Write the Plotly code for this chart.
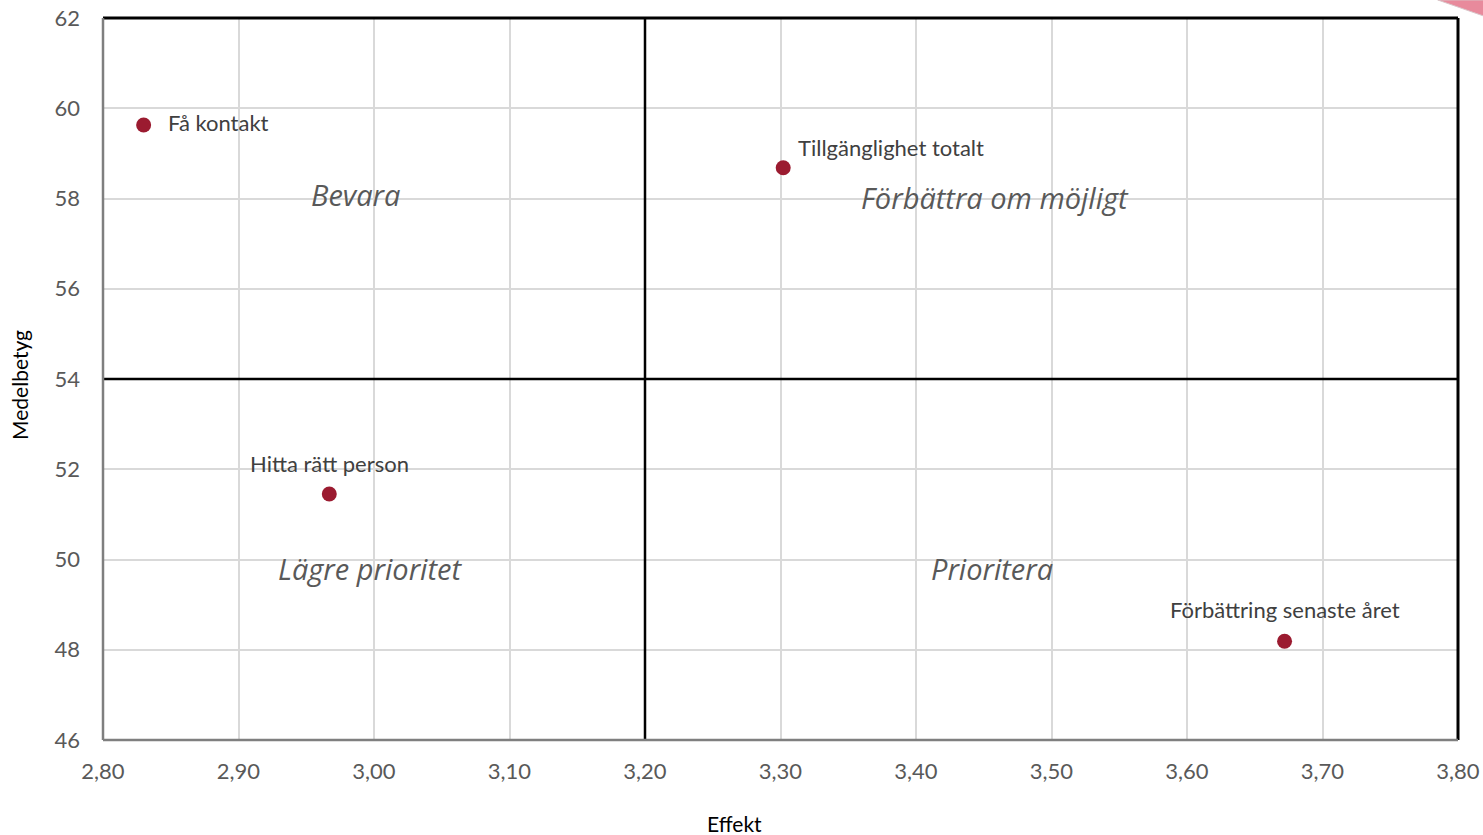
import plotly.graph_objects as go

# Punkter: effekt (x) mot medelbetyg (y)
labels = ["Få kontakt", "Tillgänglighet totalt", "Hitta rätt person", "Förbättring senaste året"]
effekt = [2.83, 3.302, 2.967, 3.672]
medelbetyg = [59.63, 58.68, 51.45, 48.19]

# Kvadrantgränser
x_split = 3.20
y_split = 54

# Kvadrantrubriker och deras placering
quad_names = ["Bevara", "Förbättra om möjligt", "Lägre prioritet", "Prioritera"]
quad_x = [2.986, 3.458, 2.997, 3.456]
quad_y = [58.08, 58.03, 49.81, 49.81]

x_range = [2.80, 3.80]
y_range = [46, 62]

x_title = "Effekt"
y_title = "Medelbetyg"

FONT = "Lato"
QFONT = "Open Sans"
marker_color = "#9b1b30"

fig = go.Figure()
fig.add_trace(go.Scatter(
    x=effekt, y=medelbetyg, mode="markers",
    marker=dict(size=15, color=marker_color),
    hoverinfo="text", text=labels, showlegend=False,
))

# Etiketter vid punkterna
label_pos = [
    dict(xanchor="left", yanchor="middle", xshift=22, yshift=2),
    dict(xanchor="left", yanchor="middle", xshift=13, yshift=20),
    dict(xanchor="center", yanchor="middle", xshift=0, yshift=31),
    dict(xanchor="center", yanchor="middle", xshift=0, yshift=32),
]
for name, xv, yv, pos in zip(labels, effekt, medelbetyg, label_pos):
    fig.add_annotation(x=xv, y=yv, text=name, showarrow=False,
                       font=dict(family=FONT, size=22, color="#404040"), **pos)

for name, xv, yv in zip(quad_names, quad_x, quad_y):
    fig.add_annotation(x=xv, y=yv, text=f"<i>{name}</i>", showarrow=False,
                       xanchor="center", yanchor="middle",
                       font=dict(family=QFONT, size=29, color="#595959"))

# Axeltitlar
fig.add_annotation(xref="paper", yref="paper", x=0.4664, y=-0.1163, text=x_title,
                   showarrow=False, xanchor="center", yanchor="middle",
                   font=dict(family=FONT, size=21, color="#000000"))
fig.add_annotation(xref="paper", yref="paper", x=-0.0613, y=0.4917, text=y_title,
                   showarrow=False, xanchor="center", yanchor="middle", textangle=-90,
                   font=dict(family=FONT, size=21, color="#000000"))

# Kvadrantlinjer
fig.add_shape(type="line", xref="x", yref="paper", x0=x_split, x1=x_split, y0=0, y1=1,
              line=dict(color="black", width=2.5), layer="above")
fig.add_shape(type="line", xref="paper", yref="y", x0=0, x1=1, y0=y_split, y1=y_split,
              line=dict(color="black", width=2.5), layer="above")

# Ram: svart upptill och till höger, grå till vänster och nertill
fig.add_shape(type="line", xref="paper", yref="paper", x0=0, x1=1, y0=1, y1=1,
              line=dict(color="black", width=3), layer="above")
fig.add_shape(type="line", xref="paper", yref="paper", x0=1, x1=1, y0=0, y1=1,
              line=dict(color="black", width=3), layer="above")
fig.add_shape(type="line", xref="paper", yref="paper", x0=0, x1=0, y0=0, y1=1,
              line=dict(color="#7f7f7f", width=2.5), layer="above")
fig.add_shape(type="line", xref="paper", yref="paper", x0=0, x1=1, y0=0, y1=0,
              line=dict(color="#7f7f7f", width=2.5), layer="above")

# Dekor i övre högra hörnet
fig.add_shape(type="path", xref="paper", yref="paper",
              path="M 0.985 1.025 L 1.02 1.025 L 1.02 1.002 Z",
              fillcolor="#e88a9c", line=dict(color="#d9c5c9", width=1), layer="above")

fig.update_xaxes(
    range=x_range, dtick=0.1, tick0=2.8, tickformat=".2f",
    showgrid=True, gridcolor="#d9d9d9", gridwidth=1.5,
    zeroline=False, showline=False, ticks="", automargin=False,
    ticklabelstandoff=16,
    tickfont=dict(family=FONT, size=22, color="#595959"),
)
fig.update_yaxes(
    range=y_range, dtick=2, tick0=46,
    showgrid=True, gridcolor="#d9d9d9", gridwidth=1.5,
    zeroline=False, showline=False, ticks="", automargin=False,
    ticklabelstandoff=22,
    tickfont=dict(family=FONT, size=22, color="#595959"),
)

fig.update_layout(
    width=1483, height=835,
    margin=dict(l=103, r=25, t=18, b=95),
    plot_bgcolor="white", paper_bgcolor="white",
    separators=", ",
    font=dict(family=FONT),
)

fig.write_html("out.html")
